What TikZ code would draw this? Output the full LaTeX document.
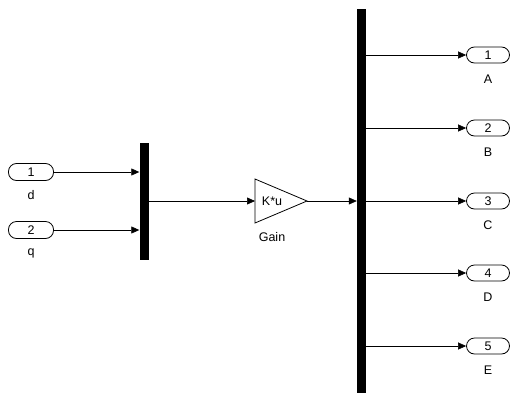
\documentclass[tikz,border=0pt]{standalone}
\usepackage{fontspec}
\setmainfont{Liberation Sans}
\usetikzlibrary{arrows.meta}
\begin{document}
\begin{tikzpicture}[x=1pt,y=-1pt,
  port/.style={draw,thick,rounded corners=8pt,minimum width=45pt,minimum height=17pt,inner sep=0pt,font=\fontsize{12.5}{13}\selectfont},
  oport/.style={port,minimum width=43pt,minimum height=16pt},
  bar/.style={fill=black,draw=none,inner sep=0pt},
  lbl/.style={font=\fontsize{12.5}{13}\selectfont,inner sep=0pt},
  sig/.style={-{Triangle[length=8pt,width=7pt]},line width=0.6pt}]
\useasboundingbox[fill=white] (0,0) rectangle (514,394);
% inputs
\node[port] (in1) at (31,172) {1};
\node[lbl] at (31,195) {d};
\node[port] (in2) at (31,230) {2};
\node[lbl] at (31,253) {q};
% mux
\node[bar,minimum width=9pt,minimum height=117pt] (mux) at (144,201) {};
\draw[sig] (in1.east) -- (in1.east -| mux.west);
\draw[sig] (in2.east) -- (in2.east -| mux.west);
% gain
\coordinate (gl) at (255,201);
\draw[thick,fill=white] (255,179) -- (307,201) -- (255,223) -- cycle;
\coordinate (gr) at (307,201);
\node[lbl] (gk) at (272,201) {K*u};
\node[lbl] at (272,237) {Gain};
\draw[sig] (mux.east) -- (gl);
% demux
\node[bar,minimum width=9pt,minimum height=384pt] (dmx) at (361.5,201) {};
\draw[sig] (gr) -- (gr -| dmx.west);
% outputs
\foreach \n/\y/\t in {1/55/A,2/128/B,3/201/C,4/273/D,5/346/E}{
  \node[oport] (out\n) at (488,\y) {\n};
  \node[lbl] at (488,\y+24) {\t};
  \draw[sig] (out\n.west -| dmx.east) -- (out\n.west);
}
\end{tikzpicture}
\end{document}
